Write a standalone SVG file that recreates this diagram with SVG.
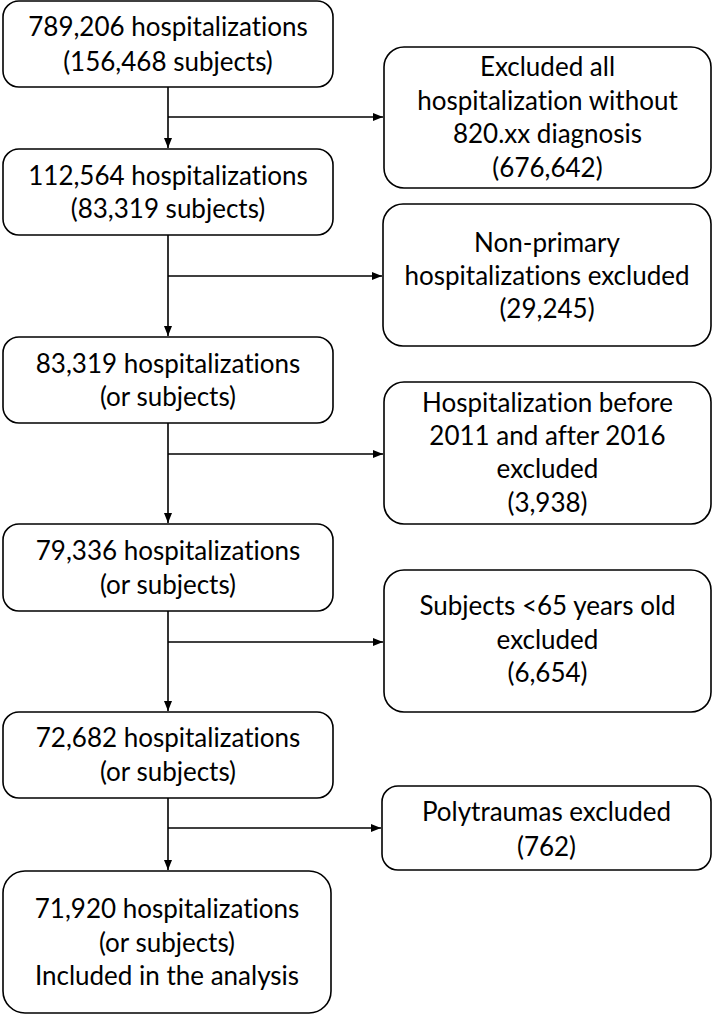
<svg xmlns="http://www.w3.org/2000/svg" width="714" height="1015" viewBox="0 0 714 1015">
<defs>
<marker id="arr" markerUnits="userSpaceOnUse" markerWidth="10" markerHeight="10" viewBox="0 0 10 10" refX="10" refY="5" orient="auto">
<path d="M0,1 L10,5 L0,9 Z" fill="#000"/>
</marker>
<style>
.box{fill:#fff;stroke:#000;stroke-width:1.6}
.t{font-family:Lato,"Open Sans","Liberation Sans",sans-serif;font-size:26px;fill:#000;text-anchor:middle;font-variant-ligatures:none}
.c{stroke:#000;stroke-width:1.6;fill:none}
</style>
</defs>
<rect width="714" height="1015" fill="#fff"/>
<g id="connectors">
<line class="c" x1="168" y1="87" x2="168" y2="148" marker-end="url(#arr)"/>
<line class="c" x1="168" y1="117" x2="383" y2="117" marker-end="url(#arr)"/>
<line class="c" x1="168" y1="235" x2="168" y2="336" marker-end="url(#arr)"/>
<line class="c" x1="168" y1="276" x2="382" y2="276" marker-end="url(#arr)"/>
<line class="c" x1="168" y1="423" x2="168" y2="523" marker-end="url(#arr)"/>
<line class="c" x1="168" y1="454" x2="383" y2="454" marker-end="url(#arr)"/>
<line class="c" x1="168" y1="611" x2="168" y2="711" marker-end="url(#arr)"/>
<line class="c" x1="168" y1="642" x2="383" y2="642" marker-end="url(#arr)"/>
<line class="c" x1="168" y1="798" x2="168" y2="870" marker-end="url(#arr)"/>
<line class="c" x1="168" y1="828" x2="381" y2="828" marker-end="url(#arr)"/>
</g>
<g id="n1">
<rect class="box" x="3" y="1" width="330" height="86" rx="16"/>
<text class="t" x="168" y="36">789,206 hospitalizations</text>
<text class="t" x="168" y="71">(156,468 subjects)</text>
</g>
<g id="e1">
<rect class="box" x="384" y="47" width="327" height="141" rx="20"/>
<text class="t" x="547.5" y="76">Excluded all</text>
<text class="t" x="547.5" y="110">hospitalization without</text>
<text class="t" x="547.5" y="143">820.xx diagnosis</text>
<text class="t" x="547.5" y="177">(676,642)</text>
</g>
<g id="n2">
<rect class="box" x="3" y="149" width="330" height="86" rx="16"/>
<text class="t" x="168" y="185">112,564 hospitalizations</text>
<text class="t" x="168" y="218">(83,319 subjects)</text>
</g>
<g id="e2">
<rect class="box" x="383" y="204" width="328" height="142" rx="20"/>
<text class="t" x="547" y="252">Non-primary</text>
<text class="t" x="547" y="285">hospitalizations excluded</text>
<text class="t" x="547" y="318">(29,245)</text>
</g>
<g id="n3">
<rect class="box" x="3" y="337" width="330" height="86" rx="16"/>
<text class="t" x="168" y="373">83,319 hospitalizations</text>
<text class="t" x="168" y="406">(or subjects)</text>
</g>
<g id="e3">
<rect class="box" x="384" y="382" width="327" height="142" rx="20"/>
<text class="t" x="547.5" y="412">Hospitalization before</text>
<text class="t" x="547.5" y="445">2011 and after 2016</text>
<text class="t" x="547.5" y="478">excluded</text>
<text class="t" x="547.5" y="512">(3,938)</text>
</g>
<g id="n4">
<rect class="box" x="3" y="524" width="330" height="87" rx="16"/>
<text class="t" x="168" y="560">79,336 hospitalizations</text>
<text class="t" x="168" y="594">(or subjects)</text>
</g>
<g id="e4">
<rect class="box" x="384" y="570" width="327" height="142" rx="20"/>
<text class="t" x="547.5" y="615">Subjects &lt;65 years old</text>
<text class="t" x="547.5" y="649">excluded</text>
<text class="t" x="547.5" y="682">(6,654)</text>
</g>
<g id="n5">
<rect class="box" x="3" y="712" width="330" height="86" rx="16"/>
<text class="t" x="168" y="747">72,682 hospitalizations</text>
<text class="t" x="168" y="781">(or subjects)</text>
</g>
<g id="e5">
<rect class="box" x="382" y="786" width="329" height="84" rx="16"/>
<text class="t" x="546.5" y="821">Polytraumas excluded</text>
<text class="t" x="546.5" y="856">(762)</text>
</g>
<g id="n6">
<rect class="box" x="3" y="871" width="328" height="142" rx="22"/>
<text class="t" x="167" y="918">71,920 hospitalizations</text>
<text class="t" x="167" y="952">(or subjects)</text>
<text class="t" x="167" y="985">Included in the analysis</text>
</g>
</svg>
